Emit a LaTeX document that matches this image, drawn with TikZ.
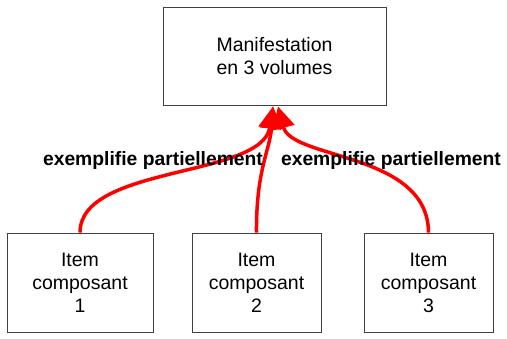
\documentclass[tikz,border=0pt]{standalone}
\usepackage{fontspec}
\setmainfont{Liberation Sans}
\usetikzlibrary{arrows.meta}
\begin{document}
\begin{tikzpicture}[x=1pt,y=-1pt,
  box/.style={draw=black!75,line width=0.9pt,fill=white,align=center,inner sep=0pt,
    font=\fontsize{19.5}{23}\selectfont},
  rel/.style={draw=red,line width=3.5pt,-{Triangle[length=22pt,width=22pt]}},
  lbl/.style={font=\fontsize{19.3}{23}\selectfont\bfseries,inner sep=0pt}]
\useasboundingbox (0,0) rectangle (507,339);
\node[box,minimum width=223pt,minimum height=98pt] (top) at (274.5,56) {Manifestation\\en 3 volumes};
\node[box,minimum width=146pt,minimum height=99pt] (b1) at (80,282.5) {Item\\composant\\1};
\node[box,minimum width=129pt,minimum height=99pt] (b2) at (256.5,282.5) {Item\\composant\\2};
\node[box,minimum width=129pt,minimum height=99pt] (b3) at (428.5,282.5) {Item\\composant\\3};
\coordinate (tl) at ([xshift=-1.5pt,yshift=-1pt]top.south);
\coordinate (tr) at ([xshift=3.5pt,yshift=-1pt]top.south);
\draw[rel] (b1.north) .. controls (80,165) and (262,178) .. (tl);
\draw[rel] (b2.north) .. controls (256,170) and (270,150) .. (tl);
\draw[rel] (b3.north) .. controls (428,152) and (292,160) .. (tr);
\node[lbl] (l1) at (153,161) {exemplifie partiellement};
\node[lbl] (l2) at (391,161) {exemplifie partiellement};
\end{tikzpicture}
\end{document}
